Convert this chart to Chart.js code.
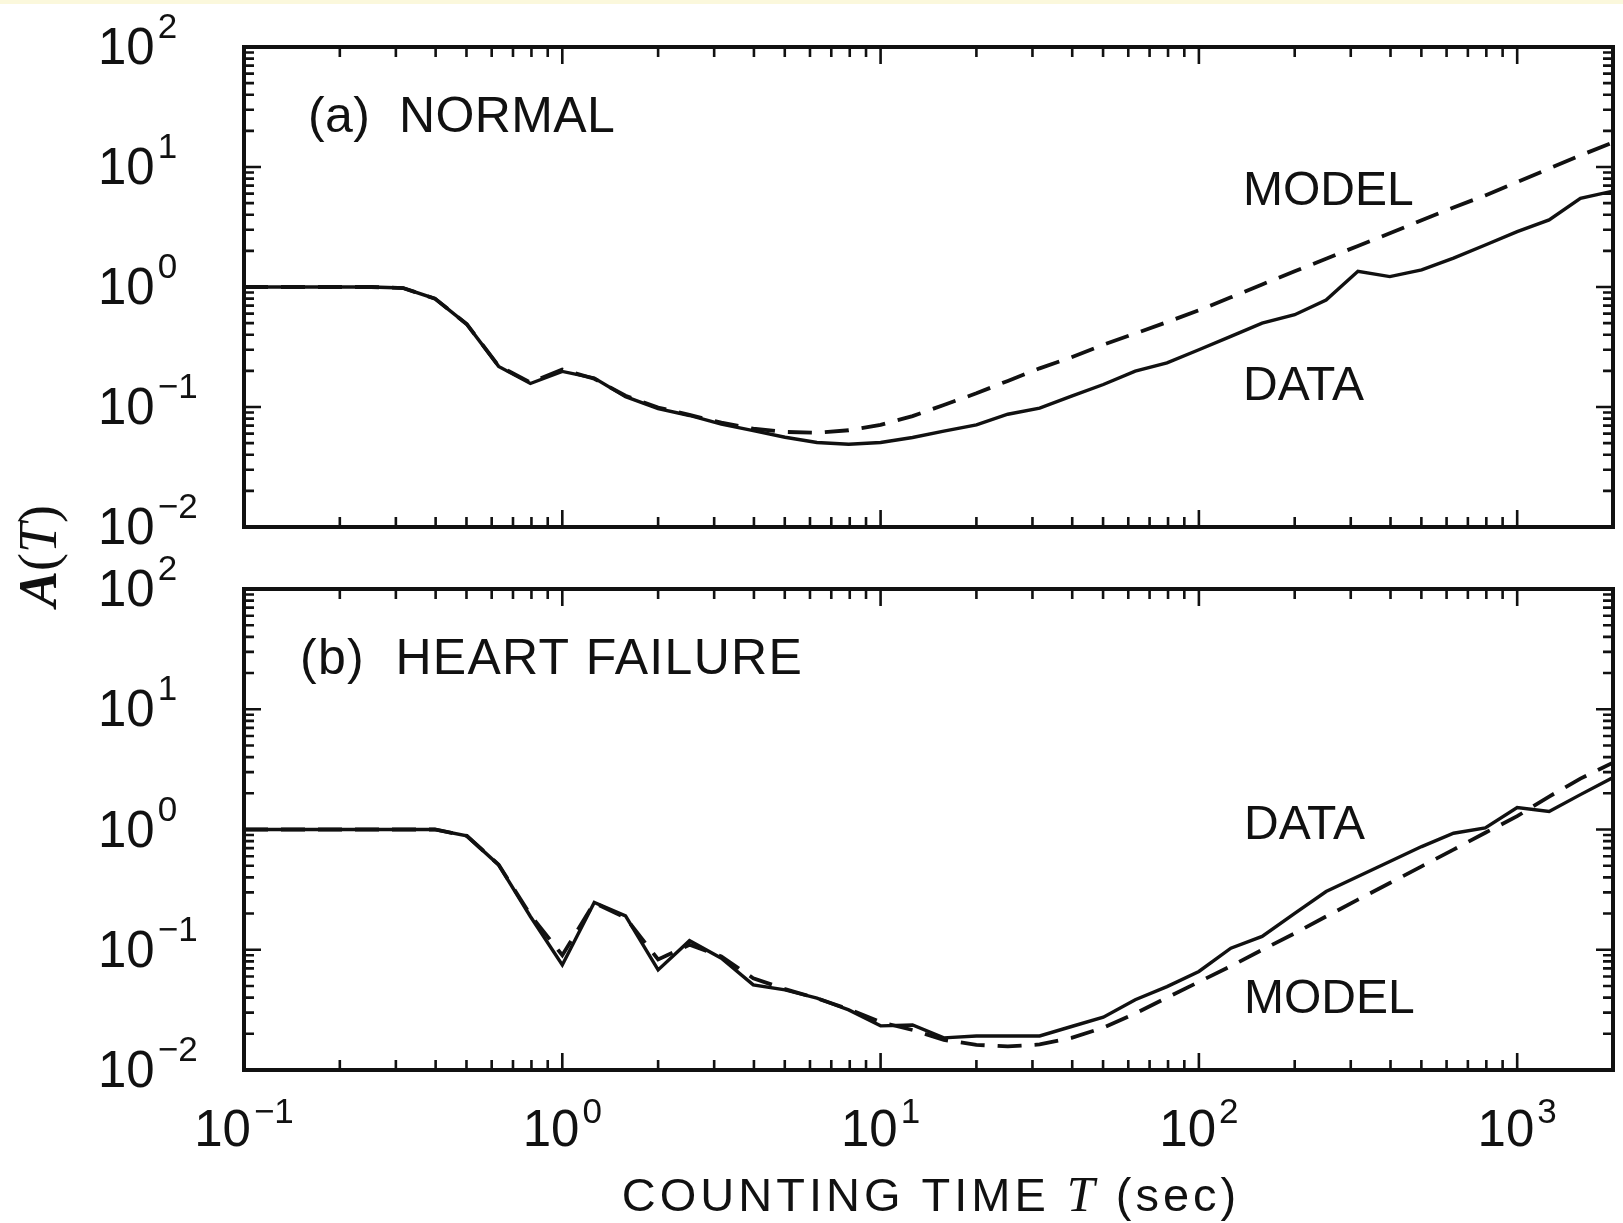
<!DOCTYPE html>
<html>
<head>
<meta charset="utf-8">
<script src="https://cdn.jsdelivr.net/npm/chart.js@4.4.0/dist/chart.umd.min.js"></script>
<style>
    html, body { margin: 0; padding: 0; background: #fff; }
    #wrap { position: relative; width: 1623px; height: 1223px; overflow: hidden; }
    #band { position: absolute; left: 0; top: 0; width: 1623px; height: 4px; background: #fbf8dc; }
    canvas { position: absolute; left: 0; top: 0; }
</style>
</head>
<body>
<div id="wrap">
    <div id="band"></div>
    <canvas id="panelA" width="1623" height="1223"></canvas>
    <canvas id="panelB" width="1623" height="1223"></canvas>
</div>
<script>
// --- Data (counting time T in sec, A(T)) ---
const countingTime = [0.1, 0.126, 0.158, 0.2, 0.251, 0.316, 0.398, 0.501, 0.631, 0.794,
    1, 1.26, 1.58, 2, 2.51, 3.16, 3.98, 5.01, 6.31, 7.94,
    10, 12.6, 15.8, 20, 25.1, 31.6, 39.8, 50.1, 63.1, 79.4,
    100, 126, 158, 200, 251, 316, 398, 501, 631, 794,
    1000, 1260, 1580, 2000];

const normalData = [1, 1, 1, 1, 1, 0.98, 0.80, 0.49, 0.218, 0.157,
    0.198, 0.174, 0.122, 0.097, 0.085, 0.072, 0.0635, 0.056, 0.0506, 0.049,
    0.0506, 0.0557, 0.063, 0.071, 0.087, 0.098, 0.123, 0.154, 0.199, 0.233,
    0.30, 0.388, 0.50, 0.587, 0.78, 1.35, 1.22, 1.39, 1.74, 2.24,
    2.89, 3.62, 5.49, 6.3];

const normalModel = [1, 1, 1, 1, 1, 0.98, 0.80, 0.49, 0.22, 0.16,
    0.205, 0.172, 0.124, 0.099, 0.086, 0.074, 0.066, 0.062, 0.061, 0.064,
    0.071, 0.084, 0.104, 0.13, 0.165, 0.21, 0.26, 0.33, 0.41, 0.51,
    0.64, 0.82, 1.05, 1.35, 1.72, 2.2, 2.8, 3.6, 4.6, 5.8,
    7.5, 9.7, 12.5, 16.0];

const heartData = [1, 1, 1, 1, 1, 1, 1.0, 0.885, 0.508, 0.189,
    0.0748, 0.247, 0.191, 0.068, 0.119, 0.085, 0.051, 0.0464, 0.0396, 0.0316,
    0.0233, 0.0237, 0.0185, 0.0192, 0.0192, 0.0192, 0.023, 0.0275, 0.0384, 0.0494,
    0.066, 0.103, 0.129, 0.201, 0.305, 0.406, 0.541, 0.721, 0.931, 1.03,
    1.52, 1.41, 1.95, 2.7];

const heartModel = [1, 1, 1, 1, 1, 1, 1.0, 0.885, 0.51, 0.195,
    0.09, 0.245, 0.185, 0.083, 0.11, 0.088, 0.058, 0.047, 0.0395, 0.032,
    0.025, 0.0215, 0.0178, 0.0162, 0.0157, 0.0163, 0.0185, 0.0225, 0.0295, 0.040,
    0.054, 0.073, 0.0998, 0.137, 0.189, 0.261, 0.359, 0.494, 0.68, 0.94,
    1.29, 1.88, 2.65, 3.6];

// tick values and their exponent labels
const xTicks = [0.1, 1, 10, 100, 1000];
const xTickExp = ['\u22121', '0', '1', '2', '3'];
const yTicks = [100, 10, 1, 0.1, 0.01];
const yTickExp = ['2', '1', '0', '\u22121', '\u22122'];

const SANS = '"Liberation Sans", Arial, sans-serif';
const SERIF = '"Liberation Serif", "Times New Roman", serif';

// --- Helpers ---
function toPoints(vals) {
    return countingTime.map((t, i) => ({ x: t, y: vals[i] }));
}

function drawPow(ctx, exp, x, baseY, supRise, center) {
    ctx.font = '51px ' + SANS;
    const w10 = ctx.measureText('10').width;
    ctx.font = '35px ' + SANS;
    const wExp = ctx.measureText(exp).width;
    const left = center ? x - (w10 + 3 + wExp) / 2 : x;
    ctx.font = '51px ' + SANS;
    ctx.fillText('10', left, baseY);
    ctx.font = '35px ' + SANS;
    ctx.fillText(exp, left + w10 + 3, baseY - supRise);
}

const framePlugin = {
    id: 'frame',
    afterDraw(chart, args, opts) {
        const { ctx, chartArea: a, scales: { x, y } } = chart;
        ctx.save();
        ctx.strokeStyle = '#111';
        ctx.fillStyle = '#111';

        // ticks, pointing inward
        ctx.lineWidth = 2.6;
        ctx.beginPath();
        [0.1, 1, 10, 100, 1000].forEach(d => {
            for (let m = 1; m < 10; m++) {
                const v = m * d;
                if (v < x.min || v > x.max * 1.0001) continue;
                const px = x.getPixelForValue(v);
                const len = m === 1 ? 17 : 10;
                ctx.moveTo(px, a.top); ctx.lineTo(px, a.top + len);
                ctx.moveTo(px, a.bottom); ctx.lineTo(px, a.bottom - len);
            }
        });
        [0.01, 0.1, 1, 10].forEach(d => {
            for (let m = 1; m < 10; m++) {
                const py = y.getPixelForValue(m * d);
                const len = m === 1 ? 17 : 10;
                ctx.moveTo(a.left, py); ctx.lineTo(a.left + len, py);
                ctx.moveTo(a.right, py); ctx.lineTo(a.right - len, py);
            }
        });
        ctx.stroke();

        ctx.lineWidth = 4;
        ctx.strokeRect(a.left, a.top, a.right - a.left, a.bottom - a.top);

        // y tick labels
        ctx.textAlign = 'left';
        ctx.textBaseline = 'alphabetic';
        yTicks.forEach((v, i) => {
            const py = y.getPixelForValue(v);
            drawPow(ctx, yTickExp[i], 98, py + 17, 26, false);
        });

        // labels in the panel
        opts.labels.forEach(l => {
            ctx.font = l.size + 'px ' + SANS;
            ctx.letterSpacing = (l.spacing || 0) + 'px';
            ctx.fillText(l.text, l.x, l.y);
        });
        ctx.letterSpacing = '0px';

        if (opts.xAxis) {
            xTicks.forEach((v, i) => {
                drawPow(ctx, xTickExp[i], x.getPixelForValue(v), 1146, 23, true);
            });

            // x title: COUNTING TIME T (sec)
            const parts = [
                { t: 'COUNTING TIME ', f: '47px ' + SANS },
                { t: 'T', f: 'italic 50px ' + SERIF },
                { t: ' (sec)', f: '47px ' + SANS }
            ];
            ctx.letterSpacing = '4px';
            let total = 0;
            parts.forEach(p => { ctx.font = p.f; p.w = ctx.measureText(p.t).width; total += p.w; });
            let cx = 931 - total / 2;
            parts.forEach(p => { ctx.font = p.f; ctx.fillText(p.t, cx, 1211); cx += p.w; });
            ctx.letterSpacing = '0px';

            // y title: A(T), rotated
            ctx.save();
            ctx.translate(56, 556);
            ctx.rotate(-Math.PI / 2);
            const yParts = [
                { t: 'A', f: 'italic bold 54px ' + SERIF },
                { t: '(', f: '54px ' + SERIF },
                { t: 'T', f: 'italic 54px ' + SERIF },
                { t: ')', f: '54px ' + SERIF }
            ];
            let yt = 0;
            yParts.forEach(p => { ctx.font = p.f; p.w = ctx.measureText(p.t).width; yt += p.w; });
            let yx = -yt / 2;
            yParts.forEach(p => { ctx.font = p.f; ctx.fillText(p.t, yx, 0); yx += p.w; });
            ctx.restore();
        }
        ctx.restore();
    }
};

function makePanel(canvasId, dataVals, modelVals, pad, frameOpts) {
    return new Chart(document.getElementById(canvasId).getContext('2d'), {
        type: 'line',
        data: {
            datasets: [{
                label: 'MODEL',
                data: toPoints(modelVals),
                borderColor: '#111',
                borderWidth: 3.8,
                borderDash: [24, 13],
                pointRadius: 0,
                tension: 0
            }, {
                label: 'DATA',
                data: toPoints(dataVals),
                borderColor: '#111',
                borderWidth: 3.4,
                pointRadius: 0,
                tension: 0
            }]
        },
        options: {
            responsive: false,
            animation: false,
            devicePixelRatio: 1,
            layout: { padding: pad },
            plugins: {
                legend: { display: false },
                tooltip: { enabled: false },
                frame: frameOpts
            },
            scales: {
                x: { type: 'logarithmic', min: 0.1, max: 2000, display: false },
                y: { type: 'logarithmic', min: 0.01, max: 100, display: false }
            }
        },
        plugins: [framePlugin]
    });
}

// --- Panels ---
makePanel('panelA', normalData, normalModel,
    { left: 244, right: 10, top: 47, bottom: 1223 - 527 },
    {
        xAxis: false,
        labels: [
            { text: '(a)  NORMAL', x: 308, y: 132, size: 50, spacing: 0.4 },
            { text: 'MODEL', x: 1243, y: 205, size: 48 },
            { text: 'DATA', x: 1243, y: 400, size: 48 }
        ]
    });

makePanel('panelB', heartData, heartModel,
    { left: 244, right: 10, top: 589, bottom: 1223 - 1070 },
    {
        xAxis: true,
        labels: [
            { text: '(b)  HEART FAILURE', x: 300, y: 674, size: 50, spacing: 1.3 },
            { text: 'DATA', x: 1244, y: 839, size: 48 },
            { text: 'MODEL', x: 1244, y: 1013, size: 48 }
        ]
    });
</script>
</body>
</html>
